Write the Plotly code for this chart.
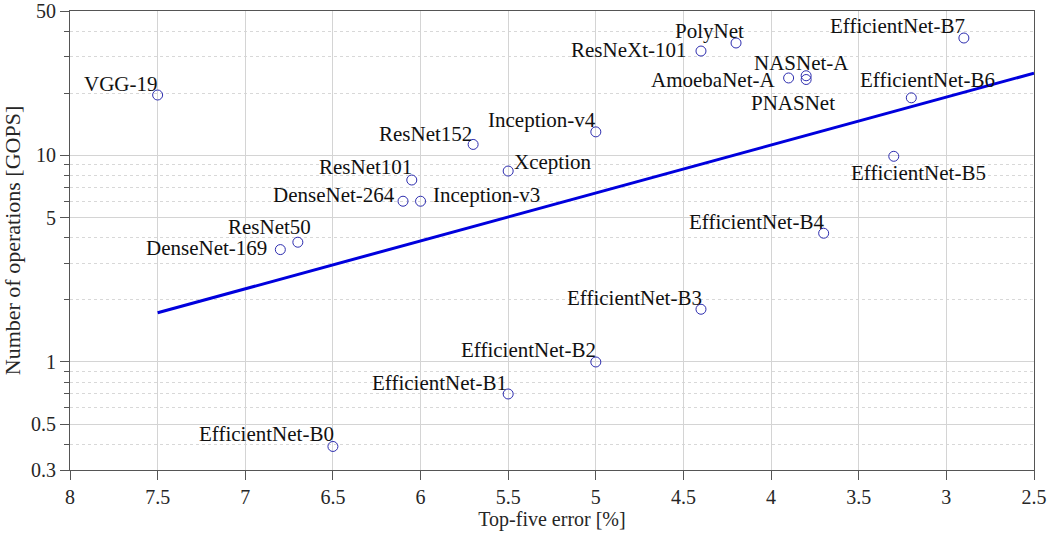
import math
import plotly.graph_objects as go

# ---- data ----
models = ["VGG-19", "ResNet50", "DenseNet-169", "ResNet101", "DenseNet-264",
          "Inception-v3", "ResNet152", "Xception", "Inception-v4", "ResNeXt-101",
          "PolyNet", "AmoebaNet-A", "NASNet-A", "PNASNet",
          "EfficientNet-B7", "EfficientNet-B6", "EfficientNet-B5", "EfficientNet-B4",
          "EfficientNet-B3", "EfficientNet-B2", "EfficientNet-B1", "EfficientNet-B0"]
top5_error = [7.5, 6.7, 6.8, 6.05, 6.1,
              6.0, 5.7, 5.5, 5.0, 4.4,
              4.2, 3.9, 3.8, 3.8,
              2.9, 3.2, 3.3, 3.7,
              4.4, 5.0, 5.5, 6.5]
gops = [19.6, 3.8, 3.5, 7.6, 6.0,
        6.0, 11.3, 8.4, 13.0, 32.0,
        35.0, 23.7, 24.3, 23.3,
        37.0, 19.0, 9.9, 4.2,
        1.8, 1.0, 0.7, 0.39]

trend_x = [7.5, 2.5]
trend_y = [1.73, 25.0]

y_ticks = [0.3, 0.5, 1, 5, 10, 50]
y_minor = [0.4, 0.6, 0.7, 0.8, 0.9, 2, 3, 4, 6, 7, 8, 9, 20, 30, 40]
x_ticks = [8, 7.5, 7, 6.5, 6, 5.5, 5, 4.5, 4, 3.5, 3, 2.5]

# label placement style: (xanchor, xshift px, yshift px down-positive)
label_style = {
    "VGG-19": ("right", 2, -13), "ResNet50": ("center", -28, -17),
    "DenseNet-169": ("right", -11, -4), "ResNet101": ("right", 2, -15),
    "DenseNet-264": ("right", -6, -8), "Inception-v3": ("left", 10, -8),
    "ResNet152": ("right", 1, -12), "Xception": ("left", 4, -11),
    "Inception-v4": ("right", 2, -14), "ResNeXt-101": ("right", -13, -3),
    "PolyNet": ("right", 10, -14), "AmoebaNet-A": ("right", -12, 0),
    "NASNet-A": ("center", -5, -15), "PNASNet": ("center", -13, 21),
    "EfficientNet-B7": ("right", 3, -14), "EfficientNet-B6": ("center", 16, -20),
    "EfficientNet-B5": ("center", 25, 15), "EfficientNet-B4": ("right", 2, -13),
    "EfficientNet-B3": ("right", 3, -13), "EfficientNet-B2": ("right", 2, -14),
    "EfficientNet-B1": ("right", 1, -13), "EfficientNet-B0": ("right", 3, -14),
}

FONT = "'Liberation Serif', 'DejaVu Serif', serif"
TXT = "#262626"

fig = go.Figure()
fig.add_trace(go.Scatter(x=trend_x, y=trend_y, mode="lines",
                         line=dict(color="#0000dd", width=3), showlegend=False,
                         hoverinfo="skip"))
fig.add_trace(go.Scatter(x=top5_error, y=gops, mode="markers",
                         marker=dict(symbol="circle-open", size=10,
                                     color="rgb(45,45,175)", line=dict(width=1)),
                         text=models, showlegend=False))

for m, xv, yv in zip(models, top5_error, gops):
    xa, dx, dy = label_style[m]
    # annotations on a log axis are positioned in log10 units
    fig.add_annotation(x=xv, y=math.log10(yv), text=m, showarrow=False,
                       xanchor=xa, yanchor="middle", xshift=dx, yshift=-dy - 2,
                       font=dict(family=FONT, size=21, color="#111111"))

fig.update_layout(
    width=1058, height=539,
    margin=dict(l=70, r=24, t=11, b=69),
    paper_bgcolor="white", plot_bgcolor="white",
    font=dict(family=FONT, size=20, color=TXT),
)
fig.update_xaxes(
    range=[8, 2.5], tickvals=x_ticks, ticktext=[str(v) for v in x_ticks],
    showgrid=True, gridcolor="#d4d4d4", gridwidth=1,
    ticks="outside", ticklen=9, tickcolor="#555555",
    showline=True, linecolor="#555555", linewidth=1, mirror=True,
    zeroline=False, automargin=False,
    title=dict(text="Top-five error [%]", font=dict(size=20, family=FONT, color=TXT), standoff=4),
    tickfont=dict(size=20, family=FONT, color=TXT),
)
fig.update_yaxes(
    type="log", range=[-0.5228787, 1.69897],
    tickvals=y_ticks, ticktext=[str(v) for v in y_ticks],
    showgrid=True, gridcolor="#d4d4d4", gridwidth=1,
    ticks="outside", ticklen=9, tickcolor="#555555",
    minor=dict(tickvals=y_minor, ticks="outside", ticklen=5, tickcolor="#555555",
               showgrid=True, gridcolor="#d8d8d8", griddash="dot", gridwidth=1),
    showline=True, linecolor="#555555", linewidth=1, mirror=True,
    zeroline=False, automargin=False,
    title=dict(text="Number of operations [GOPS]", font=dict(size=22, family=FONT, color=TXT), standoff=8),
    tickfont=dict(size=20, family=FONT, color=TXT),
)

# remove the default 8px page margin so the figure sits at the window origin
fig.write_html("out.html", config={"displayModeBar": False},
               post_script="document.body.style.margin='0';")
